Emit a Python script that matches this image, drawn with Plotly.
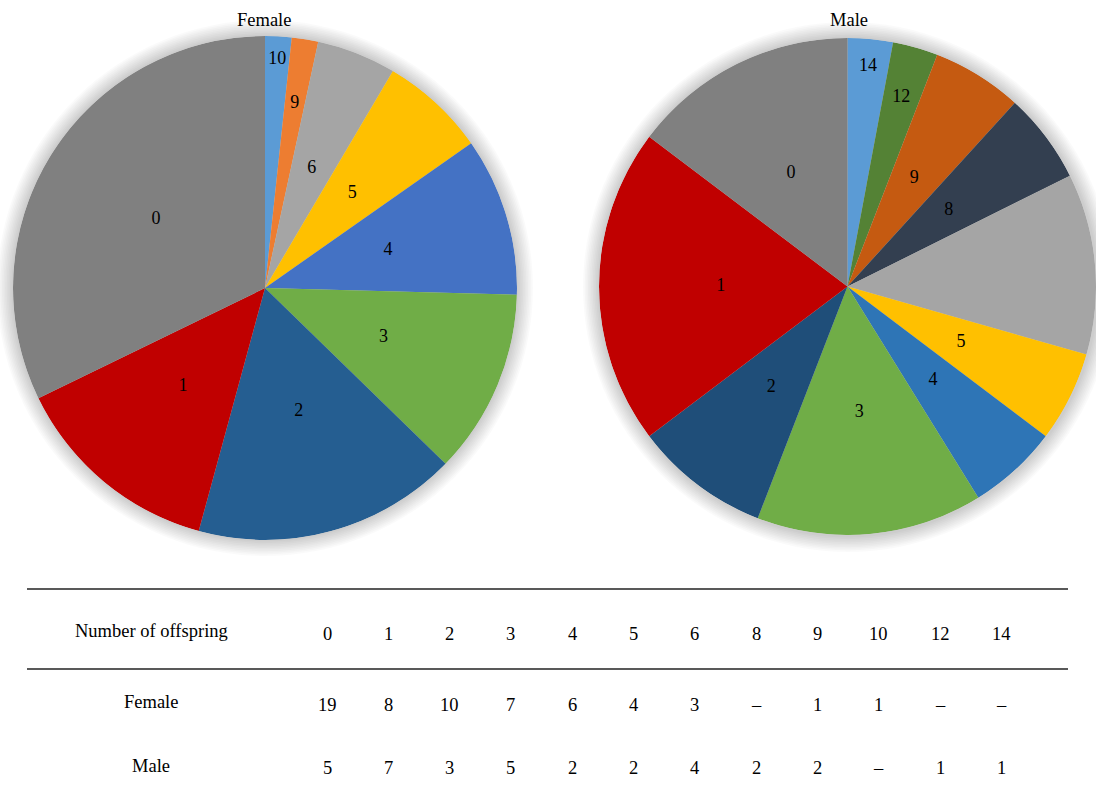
import plotly.graph_objects as go

W, H = 1096, 787

# ---- data ----
offspring = [0, 1, 2, 3, 4, 5, 6, 8, 9, 10, 12, 14]
female_counts = [19, 8, 10, 7, 6, 4, 3, None, 1, 1, None, None]
male_counts = [5, 7, 3, 5, 2, 2, 4, 2, 2, None, 1, 1]

female_colors = {0: "#808080", 1: "#C00000", 2: "#255E91", 3: "#70AD47", 4: "#4472C4",
                 5: "#FFC000", 6: "#A5A5A5", 9: "#ED7D31", 10: "#5B9BD5"}
male_colors = {0: "#808080", 1: "#C00000", 2: "#1F4E79", 3: "#70AD47", 4: "#2E75B6",
               5: "#FFC000", 6: "#A5A5A5", 8: "#333F50", 9: "#C55A11", 12: "#548235",
               14: "#5B9BD5"}
male_hidden_labels = [6]

# label placement style (fraction of radius); thin slices pushed outward
LABEL_R = 0.51
female_label_r = {10: 0.91, 9: 0.74}
male_label_r = {14: 0.89, 12: 0.79}

FONT = "Liberation Serif, Times New Roman, DejaVu Serif, serif"

def px(x):
    return x / W

def py(y):
    return 1 - y / H

fig = go.Figure()

def pie_parts(counts, colors, hidden=()):
    # clockwise from 12 o'clock, highest offspring count first
    pairs = [(o, c) for o, c in zip(offspring, counts) if c is not None][::-1]
    lab = [str(o) for o, _ in pairs]
    val = [c for _, c in pairs]
    col = [colors[o] for o, _ in pairs]
    txt = ["" if o in hidden else str(o) for o, _ in pairs]
    return pairs, lab, val, col, txt

def slice_angles(vals):
    tot = sum(vals)
    mids, widths, cum = [], [], 0
    for v in vals:
        mids.append((cum + v / 2) / tot * 360)
        widths.append(v / tot * 360)
        cum += v
    return mids, widths

pies = [
    (female_counts, female_colors, (), female_label_r, [13, 517], [540, 36], "polar"),
    (male_counts, male_colors, male_hidden_labels, male_label_r, [599, 1096], [537, 36], "polar2"),
]

layout_polars = {}
for counts, colors, hidden, lr, dx, dy, pname in pies:
    pairs, lab, val, col, txt = pie_parts(counts, colors, hidden)
    mids, widths = slice_angles(val)
    dom = dict(x=[px(dx[0]), px(dx[1])], y=[py(dy[0]), py(dy[1])])
    fig.add_trace(go.Barpolar(
        r=[1] * len(val), theta=mids, width=widths, base=0,
        marker=dict(color=col, line=dict(width=0)),
        customdata=val, text=lab,
        hovertemplate="%{text}: %{customdata}<extra></extra>",
        subplot=pname, showlegend=False,
    ))
    fig.add_trace(go.Scatterpolar(
        r=[lr.get(o, LABEL_R) for o, _ in pairs], theta=mids, text=txt,
        mode="text", textposition="middle center",
        textfont=dict(family=FONT, size=18, color="black"),
        subplot=pname, showlegend=False, hoverinfo="skip",
    ))
    layout_polars[pname] = dict(
        domain=dom, bgcolor="rgba(0,0,0,0)", bargap=0,
        radialaxis=dict(visible=False, range=[0, 1]),
        angularaxis=dict(visible=False, direction="clockwise", rotation=90),
    )

shapes = []
# soft shadow around pies
for cx, cy, r in [(265, 288, 252), (848, 287, 249)]:
    for k in range(10, 0, -1):
        rr = r + k * 1.6
        shapes.append(dict(type="circle", xref="paper", yref="paper", layer="below",
                           x0=px(cx - rr), x1=px(cx + rr), y0=py(cy + rr), y1=py(cy - rr),
                           fillcolor="rgba(0,0,0,0.018)", line=dict(width=0)))

# table lines
for yl in [589, 669]:
    shapes.append(dict(type="line", xref="paper", yref="paper", x0=px(27), x1=px(1068),
                       y0=py(yl), y1=py(yl), line=dict(color="#222222", width=1.3)))

ann = []
ann.append(dict(text="Female", x=px(264), y=py(20)))
ann.append(dict(text="Male", x=px(849), y=py(20)))
ann.append(dict(text="Number of offspring", x=px(151), y=py(631)))
ann.append(dict(text="Female", x=px(151), y=py(702)))
ann.append(dict(text="Male", x=px(151), y=py(766)))
col_x0, col_dx = 327, 61.3
for i, o in enumerate(offspring):
    x = px(col_x0 + i * col_dx)
    ann.append(dict(text=str(o), x=x, y=py(634)))
    fv = female_counts[i]
    mv = male_counts[i]
    ann.append(dict(text=str(fv) if fv is not None else "–", x=x, y=py(705)))
    ann.append(dict(text=str(mv) if mv is not None else "–", x=x, y=py(768)))

for a in ann:
    a.update(xref="paper", yref="paper", showarrow=False, xanchor="center", yanchor="middle",
             font=dict(family=FONT, size=18.5, color="black"))

fig.update_layout(
    width=W, height=H, margin=dict(l=0, r=0, t=0, b=0),
    paper_bgcolor="white", plot_bgcolor="white",
    shapes=shapes, annotations=ann, **layout_polars,
)

fig.write_html("out.html")
